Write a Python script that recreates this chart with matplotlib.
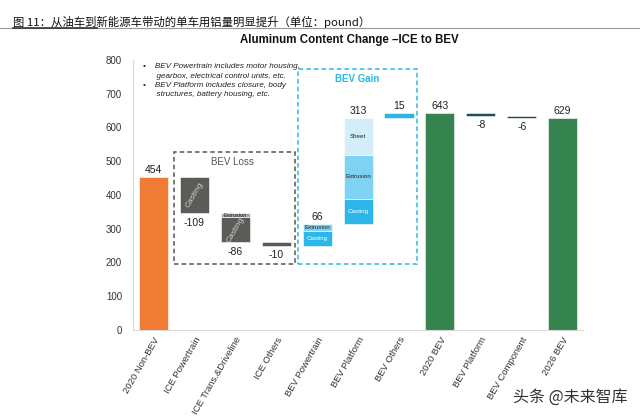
import matplotlib.pyplot as plt
import matplotlib.patches as mpatches

plt.rcParams['font.family'] = ['Liberation Sans', 'Noto Sans CJK SC', 'DejaVu Sans']

categories = ['2020 Non-BEV', 'ICE Powertrain', 'ICE Trans.&Driveline', 'ICE Others',
              'BEV Powertrain', 'BEV Platform', 'BEV Others', '2020 BEV',
              'BEV Platform', 'BEV Component', '2026 BEV']
net = [454, -109, -86, -10, 66, 313, 15, 643, -8, -6, 629]
is_total = [True, False, False, False, False, False, False, True, False, False, True]

# breakdown of each bar (absolute sizes), bottom to top
casting = [0, 109, 76, 0, 44, 73, 0, 0, 0, 0, 0]
extrusion = [0, 0, 10, 0, 22, 131, 0, 0, 0, 0, 0]
sheet = [0, 0, 0, 0, 0, 109, 0, 0, 0, 0, 0]
other = [454, 0, 0, 10, 0, 0, 15, 643, 8, 6, 629]

other_col = ['#F07B35', None, None, '#595959', None, None, '#2CB4E8', '#35844F',
             '#1E4D5C', '#1E4D5C', '#35844F']
ice_cols = {'casting': '#5B5B58', 'extrusion': '#A8A8A8'}
bev_cols = {'casting': '#2CB6EA', 'extrusion': '#80D2F3', 'sheet': '#D3EEFA'}

notes = ("•    BEV Powertrain includes motor housing,\n"
         "      gearbox, electrical control units, etc.\n"
         "•    BEV Platform includes closure, body\n"
         "      structures, battery housing, etc.")

fig = plt.figure(figsize=(6.4, 4.17), dpi=100)
ax = fig.add_axes([0.208, 0.209, 0.703, 0.647])

level = 0
width = 0.71
for i, cat in enumerate(categories):
    if is_total[i]:
        lo, hi = 0, net[i]
        level = net[i]
    else:
        if net[i] >= 0:
            lo, hi = level, level + net[i]
        else:
            lo, hi = level + net[i], level
        level += net[i]
    cols = ice_cols if i < 4 else bev_cols
    b = lo
    for name, vals in [('casting', casting), ('extrusion', extrusion), ('sheet', sheet)]:
        v = vals[i]
        if v:
            ax.bar(i, v, width, bottom=b, color=cols[name], edgecolor='white', linewidth=0.4)
            if i < 4:
                if name == 'casting':
                    ax.text(i, b + v / 2, 'Casting', rotation=60, ha='center', va='center',
                            fontsize=6, color='#D0D0D0')
                else:
                    ax.text(i, b + v / 2, 'Extrusion', ha='center', va='center',
                            fontsize=4, color='#222222')
            else:
                tc = 'white' if name == 'casting' else '#222222'
                ax.text(i, b + v / 2, name.capitalize(), ha='center', va='center',
                        fontsize=4.5, color=tc)
            b += v
    if other[i]:
        ax.bar(i, other[i], width, bottom=b, color=other_col[i], edgecolor='white', linewidth=0.4)
    if net[i] >= 0:
        ax.annotate(str(net[i]), (i, hi), xytext=(0, 1.5), textcoords='offset points',
                    ha='center', va='bottom', fontsize=7.5, color='#222222')
    else:
        ax.annotate(str(net[i]), (i, lo), xytext=(0, -3), textcoords='offset points',
                    ha='center', va='top', fontsize=7.5, color='#222222')

# group boxes
ax.add_patch(mpatches.Rectangle((0.51, 194), 2.94, 333, fill=False, ls=(0, (3, 2)),
                                lw=1.1, edgecolor='#555555'))
ax.text(1.93, 498, 'BEV Loss', ha='center', va='center', fontsize=7, color='#555555')
ax.add_patch(mpatches.Rectangle((3.52, 196), 2.93, 577, fill=False, ls=(0, (3, 2)),
                                lw=1.1, edgecolor='#2CB6EA'))
ax.text(4.99, 744, 'BEV Gain', ha='center', va='center', fontsize=7,
        color='#2CB6EA', fontweight='bold')

ax.text(-0.27, 790, notes, ha='left', va='top', fontsize=5.9, style='italic',
        color='#222222', linespacing=1.45)

ax.set_xlim(-0.5, 10.5)
ax.set_ylim(0, 800)
ax.set_yticks(range(0, 801, 100))
ax.set_xticks(range(len(categories)))
ax.set_xticklabels(categories, rotation=60, ha='right', rotation_mode='anchor', fontsize=6.8,
                   color='#333333')
ax.tick_params(axis='y', length=0, labelsize=7, labelcolor='#333333', pad=8)
ax.tick_params(axis='x', length=0, pad=4)
for s in ['top', 'right']:
    ax.spines[s].set_visible(False)
for s in ['left', 'bottom']:
    ax.spines[s].set_color('#D9D9D9')

fig.text(0.546, 0.904, 'Aluminum Content Change –ICE to BEV', ha='center', va='center',
         fontsize=8.3, fontweight='bold', color='#111111')
fig.text(0.02, 0.948, '图 11：从油车到新能源车带动的单车用铝量明显提升（单位：pound）',
         ha='left', va='center', fontsize=8.2, color='#111111',
         family=['Noto Sans CJK SC', 'DejaVu Sans'])
fig.add_artist(plt.Line2D([0, 1], [0.933, 0.933], color='#999999', lw=0.8))
fig.add_artist(plt.Line2D([0.02, 0.152], [0.933, 0.933], color='#333333', lw=1.2))
fig.text(0.981, 0.048, '头条 @未来智库', ha='right', va='center', fontsize=11.5,
         color='#333333', family=['Noto Sans CJK SC', 'DejaVu Sans'])

fig.savefig('out.png', dpi=100)
